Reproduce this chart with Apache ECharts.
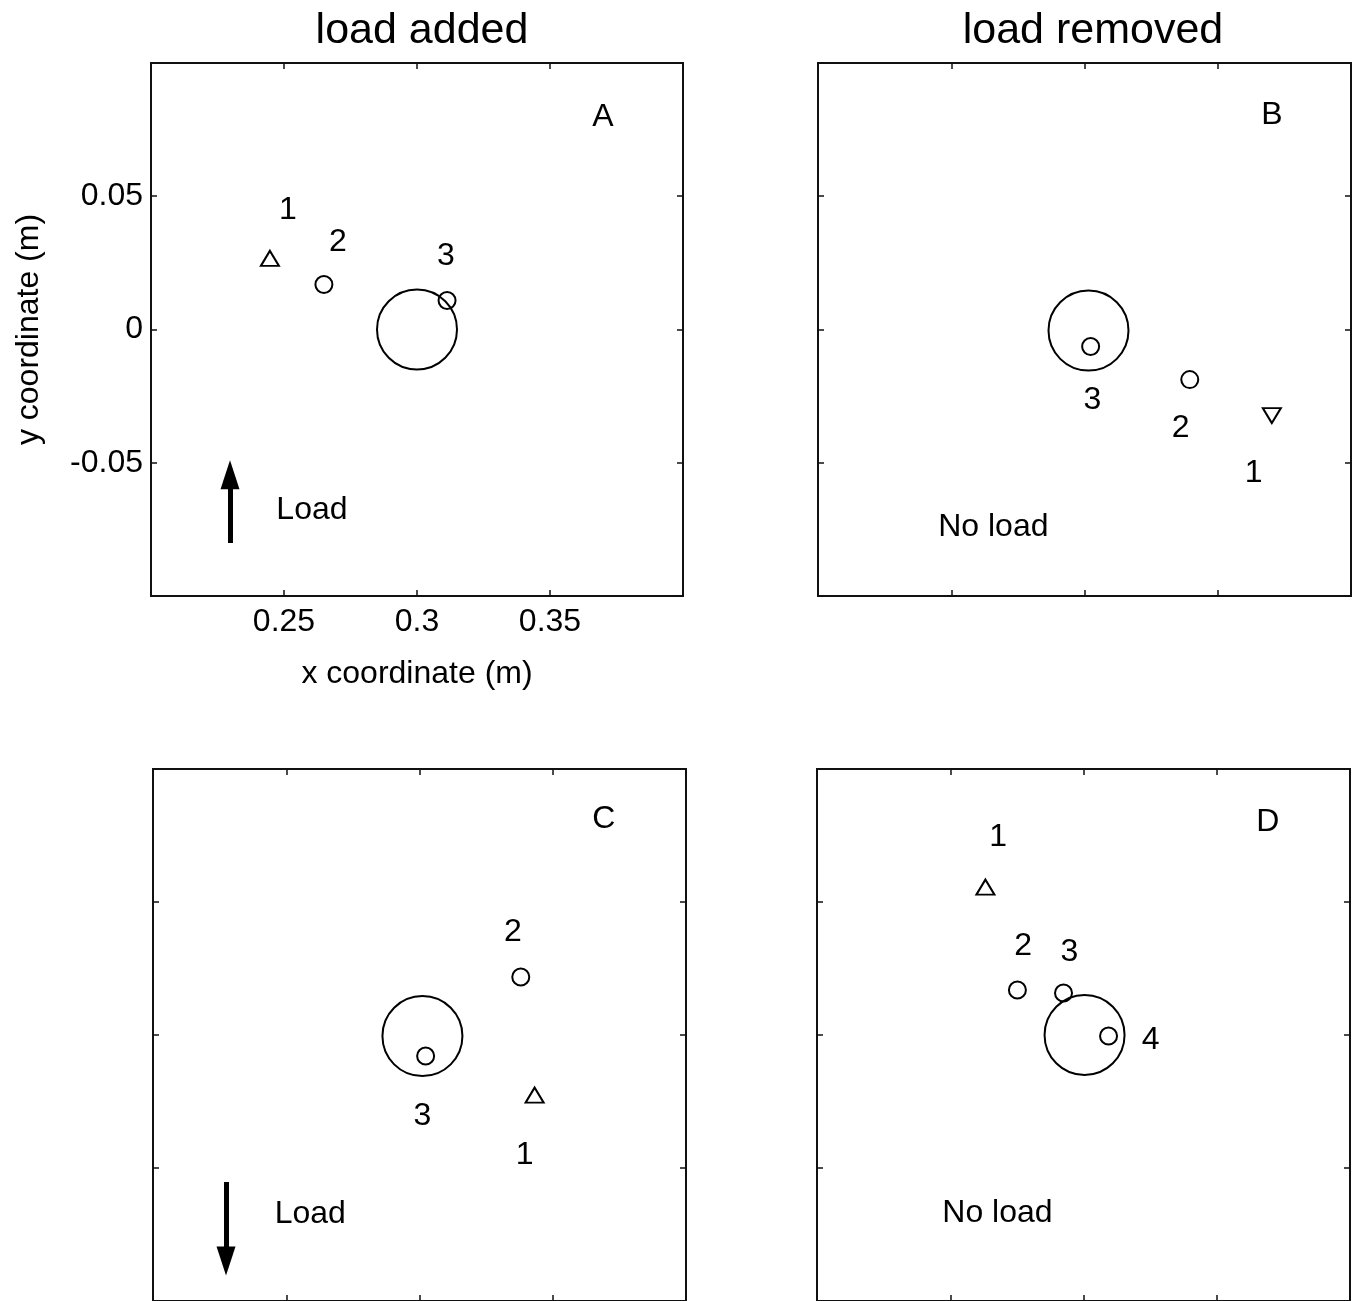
<!DOCTYPE html>
<html>
<head>
    <meta charset="utf-8">
    <title>load added / load removed</title>
    <script src="https://cdn.jsdelivr.net/npm/echarts@6/dist/echarts.min.js"></script>
    <style>
        html, body { margin: 0; padding: 0; background: #fff; }
    </style>
</head>
<body>
<div id="chartmain" style="width:1358px; height:1301px;"></div>
<script>
    // axis ranges and tick labels (m)
    var xRange = [0.2, 0.4];
    var yRange = [-0.1, 0.1];
    var tickStep = 0.05;

    // big reference circle in each panel [x, y]
    var bigA = [[0.3, 0.0]];
    var bigB = [[0.3015, -0.0004]];
    var bigC = [[0.3011, -0.0004]];
    var bigD = [[0.3004, 0.0]];

    // small circles [x, y]
    var circA = [[0.2650, 0.0169], [0.3113, 0.0109]];
    var circB = [[0.3023, -0.0064], [0.3395, -0.0188]];
    var circC = [[0.3023, -0.0079], [0.3380, 0.0218]];
    var circD = [[0.2752, 0.0169], [0.2925, 0.0158], [0.3094, -0.0004]];

    // triangles [x, y]
    var triA = [[0.2447, 0.0267]];
    var triB = [[0.3703, -0.0323]];   // pointing down
    var triC = [[0.3432, -0.0226]];
    var triD = [[0.2632, 0.0556]];

    // text labels [x, y, text]
    var textA = [[0.2515, 0.0447, '1'], [0.2703, 0.0327, '2'], [0.3109, 0.0274, '3'],
                 [0.3699, 0.0797, 'A'], [0.2605, -0.0677, 'Load']];
    var textB = [[0.3030, -0.0267, '3'], [0.3361, -0.0372, '2'], [0.3635, -0.0538, '1'],
                 [0.3703, 0.0805, 'B'], [0.2658, -0.0741, 'No load']];
    var textC = [[0.3350, 0.0387, '2'], [0.3011, -0.0305, '3'], [0.3395, -0.0451, '1'],
                 [0.3692, 0.0812, 'C'], [0.2590, -0.0673, 'Load']];
    var textD = [[0.2680, 0.0744, '1'], [0.2774, 0.0335, '2'], [0.2947, 0.0312, '3'],
                 [0.3252, -0.0019, '4'], [0.3692, 0.0801, 'D'], [0.2677, -0.0669, 'No load']];

    // load arrows: shaft [[x0, y0], [x1, y1]] and head centre [x, y]
    var shaftA = [[0.2297, -0.0801], [0.2297, -0.0568]];
    var headA = [[0.2297, -0.0545]];
    var shaftC = [[0.2274, -0.0553], [0.2274, -0.0800]];
    var headC = [[0.2274, -0.0850]];

    var FONT = '"Liberation Sans", Arial, Helvetica, sans-serif';
    var INK = '#000';

    var grids = [
        {left: 151, top: 63, width: 532, height: 533},
        {left: 818, top: 63, width: 533, height: 533},
        {left: 153, top: 769, width: 533, height: 533},
        {left: 817, top: 769, width: 533, height: 533}
    ];
    grids.forEach(function (g) {
        g.show = true;
        g.borderColor = '#111';
        g.borderWidth = 2;
        g.backgroundColor = '#fff';
    });

    function axisBase(type, i, pos, labels) {
        var a = {
            type: 'value',
            gridIndex: i,
            position: pos,
            min: type === 'x' ? xRange[0] : yRange[0],
            max: type === 'x' ? xRange[1] : yRange[1],
            interval: tickStep,
            axisLine: {show: false, onZero: false},
            axisTick: {show: true, inside: true, length: 6, lineStyle: {color: '#111', width: 1.5}},
            splitLine: {show: false},
            axisLabel: {show: false}
        };
        if (labels) {
            a.axisLabel = {
                show: true, showMinLabel: false, showMaxLabel: false,
                color: INK, fontSize: 32, fontFamily: FONT, margin: type === 'x' ? 10 : 8,
                formatter: function (v) { return String(Math.round(v * 100) / 100); }
            };
        }
        return a;
    }

    var xAxes = [], yAxes = [];
    for (var i = 0; i < 4; i++) {
        xAxes.push(axisBase('x', i, 'bottom', i === 0));
        xAxes.push(axisBase('x', i, 'top', false));
        yAxes.push(axisBase('y', i, 'left', i === 0));
        yAxes.push(axisBase('y', i, 'right', false));
    }
    xAxes[0].name = 'x coordinate (m)';
    xAxes[0].nameLocation = 'middle';
    xAxes[0].nameGap = 62;
    xAxes[0].nameTextStyle = {color: INK, fontSize: 32, fontFamily: FONT};
    yAxes[0].name = 'y coordinate (m)';
    yAxes[0].nameLocation = 'middle';
    yAxes[0].nameGap = 106;
    yAxes[0].nameTextStyle = {color: INK, fontSize: 32, fontFamily: FONT};

    var series = [];
    var bigs = [bigA, bigB, bigC, bigD];
    var circs = [circA, circB, circC, circD];
    var tris = [triA, triB, triC, triD];
    var texts = [textA, textB, textC, textD];

    for (var p = 0; p < 4; p++) {
        var ax = {xAxisIndex: p * 2, yAxisIndex: p * 2};
        series.push(Object.assign({
            type: 'scatter', data: bigs[p], symbol: 'circle', symbolSize: 80,
            itemStyle: {color: 'rgba(0,0,0,0)', borderColor: INK, borderWidth: 2, opacity: 1},
            silent: true, z: 3
        }, ax));
        series.push(Object.assign({
            type: 'scatter', data: circs[p], symbol: 'circle', symbolSize: 17,
            itemStyle: {color: 'rgba(0,0,0,0)', borderColor: INK, borderWidth: 2, opacity: 1},
            silent: true, z: 4
        }, ax));
        series.push(Object.assign({
            type: 'scatter', data: tris[p], symbol: 'triangle', symbolSize: [18, 15],
            symbolRotate: p === 1 ? 180 : 0,
            itemStyle: {color: 'rgba(0,0,0,0)', borderColor: INK, borderWidth: 2, opacity: 1},
            silent: true, z: 4
        }, ax));
        series.push(Object.assign({
            type: 'scatter', data: texts[p], symbolSize: 0,
            itemStyle: {opacity: 1},
            label: {
                show: true, position: 'inside', color: INK, fontSize: 32, fontFamily: FONT,
                formatter: function (d) { return d.value[2]; }
            },
            silent: true, z: 5
        }, ax));
    }

    [[0, shaftA, headA, 0], [2, shaftC, headC, 180]].forEach(function (a) {
        series.push({
            type: 'lines', coordinateSystem: 'cartesian2d',
            xAxisIndex: a[0] * 2, yAxisIndex: a[0] * 2,
            symbol: ['none', 'none'],
            lineStyle: {color: INK, width: 5, opacity: 1},
            data: [{coords: a[1]}],
            silent: true, z: 5
        });
        series.push({
            type: 'scatter', xAxisIndex: a[0] * 2, yAxisIndex: a[0] * 2,
            data: a[2], symbol: 'triangle', symbolSize: [19, 29], symbolRotate: a[3],
            itemStyle: {color: INK, opacity: 1},
            silent: true, z: 6
        });
    });

    var option = {
        backgroundColor: '#fff',
        animation: false,
        title: [
            {text: 'load added', left: 417, top: 5, textAlign: 'center',
             textStyle: {color: INK, fontSize: 43, fontWeight: 'normal', fontFamily: FONT}},
            {text: 'load removed', left: 1088, top: 5, textAlign: 'center',
             textStyle: {color: INK, fontSize: 43, fontWeight: 'normal', fontFamily: FONT}}
        ],
        grid: grids,
        xAxis: xAxes,
        yAxis: yAxes,
        series: series
    };

    var myChart = echarts.init(document.getElementById('chartmain'));
    myChart.setOption(option);
</script>
</body>
</html>
